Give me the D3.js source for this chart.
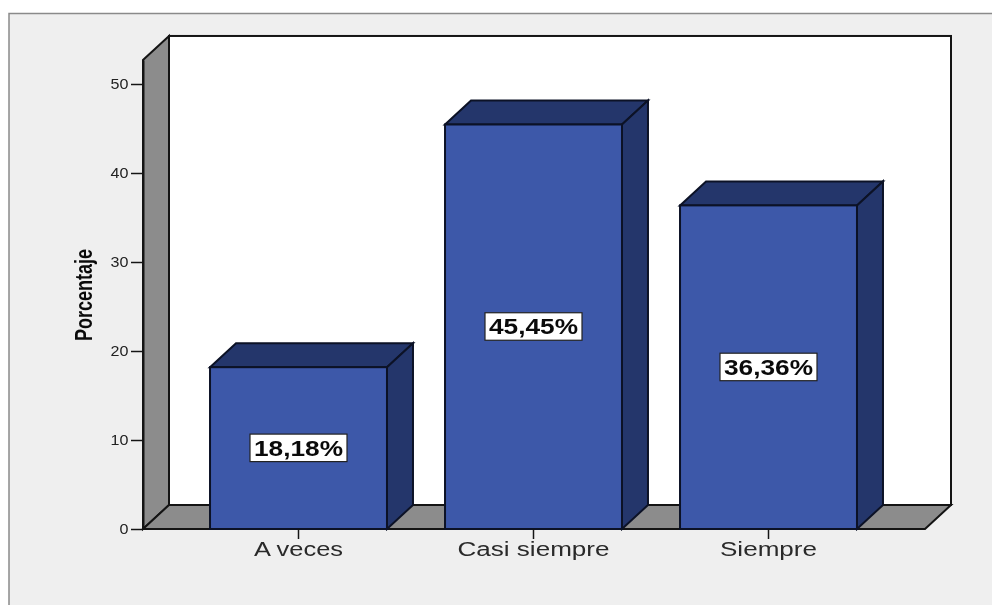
<!DOCTYPE html>
<html><head><meta charset="utf-8">
<script src="https://cdn.jsdelivr.net/npm/d3@7"></script>
<style>html,body{margin:0;padding:0;background:#fff;overflow:hidden}svg{display:block;filter:blur(0.4px)}</style>
</head><body><svg id="c" width="992" height="605"></svg>
<script>
const categories = ["A veces", "Casi siempre", "Siempre"];
const values = [18.18, 45.45, 36.36];
const valueLabels = ["18,18%", "45,45%", "36,36%"];
const yTicks = [0, 10, 20, 30, 40, 50];
const yTitle = "Porcentaje";
const yMax = 52.7;

const svg = d3.select("#c");
const dx = 26, dy = 24;
const x0 = 143, x1 = 925, yB = 529;
const y = d3.scaleLinear().domain([0, yMax]).range([yB, yB - yMax * 8.9]);
const x = d3.scaleBand().domain(categories).range([181, 886]).paddingInner(0.247).paddingOuter(0.1235);
const yT = y(yMax);
const line = "#141414";
const lw = 2;
const poly = pts => pts.map(p => p.join(",")).join(" ");

// panel
svg.append("rect").attr("x", 9).attr("y", 13).attr("width", 983).attr("height", 592).attr("fill", "#efefef");
svg.append("path").attr("d", "M9,605V13.5H992").attr("fill", "none").attr("stroke", "#8a8a8a").attr("stroke-width", 1.5);

// back wall, side wall, floor
svg.append("rect").attr("x", x0 + dx).attr("y", yT - dy).attr("width", x1 - x0).attr("height", yB - yT)
  .attr("fill", "#fff").attr("stroke", line).attr("stroke-width", lw);
svg.append("polygon").attr("points", poly([[x0, yB], [x0, yT], [x0 + dx, yT - dy], [x0 + dx, yB - dy]]))
  .attr("fill", "#8c8c8c").attr("stroke", line).attr("stroke-width", lw);
svg.append("polygon").attr("points", poly([[x0, yB], [x1, yB], [x1 + dx, yB - dy], [x0 + dx, yB - dy]]))
  .attr("fill", "#8c8c8c").attr("stroke", line).attr("stroke-width", lw);

// y axis
const gy = svg.append("g").attr("transform", `translate(${x0},0)`)
  .call(d3.axisLeft(y).tickValues(yTicks).tickSize(12).tickPadding(2).tickSizeOuter(0));
gy.select(".domain").attr("stroke", line).attr("stroke-width", lw);
gy.selectAll(".tick line").attr("stroke", line).attr("stroke-width", 1.5);
gy.selectAll("text").attr("fill", "#222").attr("font-family", "Liberation Sans").attr("font-size", 14)
  .attr("transform", "scale(1.15,1)").attr("x", -14 / 1.15 - 0.5);

// bars
const bars = svg.append("g").selectAll("g").data(categories).join("g");
bars.append("polygon").attr("points", (d, i) => {
  const l = x(d), r = l + x.bandwidth(), t = y(values[i]);
  return poly([[l, t], [l + dx, t - dy], [r + dx, t - dy], [r, t]]);
}).attr("fill", "#24366b").attr("stroke", "#0c1226").attr("stroke-width", lw);
bars.append("polygon").attr("points", (d, i) => {
  const r = x(d) + x.bandwidth(), t = y(values[i]);
  return poly([[r, t], [r + dx, t - dy], [r + dx, yB - dy], [r, yB]]);
}).attr("fill", "#24366b").attr("stroke", "#0c1226").attr("stroke-width", lw);
bars.append("rect").attr("x", d => x(d)).attr("y", (d, i) => y(values[i]))
  .attr("width", x.bandwidth()).attr("height", (d, i) => yB - y(values[i]))
  .attr("fill", "#3d58a9").attr("stroke", "#0c1226").attr("stroke-width", lw);

// value labels
const lab = svg.append("g").selectAll("g").data(categories).join("g")
  .attr("transform", (d, i) => `translate(${x(d) + x.bandwidth() / 2},${y(values[i] / 2)})`);
lab.append("rect").attr("x", -48.5).attr("y", -14).attr("width", 97).attr("height", 27.5)
  .attr("fill", "#fff").attr("stroke", "#222").attr("stroke-width", 1.2);
lab.append("text").text((d, i) => valueLabels[i]).attr("text-anchor", "middle").attr("y", 7.5)
  .attr("font-family", "Liberation Sans").attr("font-weight", "bold").attr("font-size", 22)
  .attr("textLength", 89).attr("lengthAdjust", "spacingAndGlyphs").attr("fill", "#0a0a0a");

// x axis
const gx = svg.append("g").attr("transform", `translate(0,${yB})`)
  .call(d3.axisBottom(x).tickSize(10).tickSizeOuter(0).tickPadding(3));
gx.select(".domain").remove();
gx.selectAll(".tick line").attr("stroke", line).attr("stroke-width", 1.5);
gx.selectAll("text").attr("fill", "#2a2a2a").attr("font-family", "Liberation Sans").attr("font-size", 20)
  .attr("textLength", d => ({ "A veces": 89, "Casi siempre": 152, "Siempre": 97 })[d])
  .attr("lengthAdjust", "spacingAndGlyphs");

// y title
svg.append("text").text(yTitle).attr("transform", "translate(92,295) rotate(-90)")
  .attr("text-anchor", "middle").attr("font-family", "Liberation Sans").attr("font-weight", "bold")
  .attr("font-size", 23).attr("textLength", 92).attr("lengthAdjust", "spacingAndGlyphs").attr("fill", "#0a0a0a");
</script></body></html>
